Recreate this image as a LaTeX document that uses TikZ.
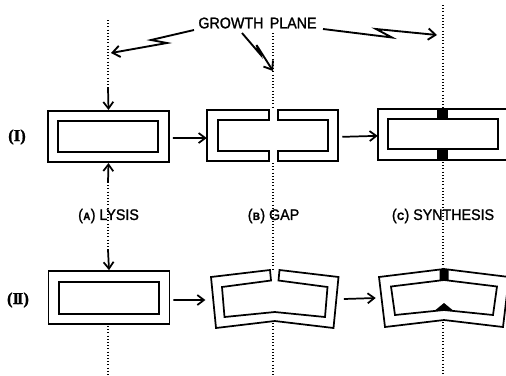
\documentclass[tikz,border=0pt]{standalone}
\usepackage{fontspec}
\setmainfont{Liberation Sans}
\newfontfamily\lettering[FakeBold=1.4]{Liberation Sans}
\newfontfamily\numfont[FakeBold=1.0]{Liberation Serif}
\usetikzlibrary{arrows.meta}
% small letter in parentheses, as in "(A)"
\newcommand\parlet[1]{(\kern0.3pt{\fontsize{8}{8}\selectfont\bfseries #1}\kern0.3pt)}
\tikzset{
  wall/.style={draw=black, line width=1.3pt, fill=white, line join=miter},
  cellout/.style={wall, minimum width=90.75pt, minimum height=38.5pt, inner sep=0pt},
  cellin/.style={wall, minimum width=75.5pt, minimum height=23.5pt, inner sep=0pt},
  hidden/.style={draw=none, inner sep=0pt},
  plane/.style={line width=1pt, dash pattern=on 0.8pt off 1.6pt},
  flow/.style={line width=1.3pt, -{Straight Barb[length=5pt,width=7.5pt,line width=1.3pt]}},
  bolt/.style={line width=1.4pt, line join=miter,
    -{Straight Barb[length=5.5pt,width=8.5pt,line width=1.4pt]}},
  lbl/.style={font=\lettering\fontsize{11.5}{12}\selectfont, xscale=0.93, inner sep=0pt},
  rowlbl/.style={font=\numfont\bfseries\fontsize{12.5}{13}\selectfont, inner sep=0pt},
  newwall/.style={fill=black, draw=none},
}
\begin{document}
\begin{tikzpicture}[x=0.75pt,y=-0.75pt]
\useasboundingbox (0,0) rectangle (506,375);
\begin{scope}
\clip (0,0) rectangle (506,375);

% ---------- growth planes (dotted) ----------
\coordinate (p1a) at (108,20);  \coordinate (p1b) at (108,88);
\coordinate (p1c) at (108,182); \coordinate (p1d) at (108,250);
\coordinate (p1e) at (108,326); \coordinate (p1f) at (108,375);
\draw[plane] (p1a) -- (p1b);
\draw[plane] (p1c) -- (p1d);
\draw[plane] (p1e) -- (p1f);

\coordinate (p2a) at (273,33);  \coordinate (p2b) at (273,109);
\coordinate (p2c) at (273,163); \coordinate (p2d) at (273,269);
\coordinate (p2e) at (273,323); \coordinate (p2f) at (273,375);
\draw[plane] (p2a) -- (p2b);
\draw[plane] (p2c) -- (p2d);
\draw[plane] (p2e) -- (p2f);

\coordinate (p3a) at (443,5);   \coordinate (p3b) at (443,108);
\coordinate (p3c) at (443,162); \coordinate (p3d) at (443,268);
\coordinate (p3e) at (443,322); \coordinate (p3f) at (443,375);
\draw[plane] (p3a) -- (p3b);
\draw[plane] (p3c) -- (p3d);
\draw[plane] (p3e) -- (p3f);

% ---------- title and lightning arrows ----------
\node[lbl] (title) at (257.5,23) {GROWTH\hspace{0.45em}PLANE};

\coordinate (b1s) at (194,30);  \coordinate (b1m) at (151,40);
\coordinate (b1n) at (167,43); \coordinate (b1e) at (111,53);
\draw[bolt] (b1s) -- (b1m) -- (b1n) -- (b1e);

\coordinate (b2s) at (242,33);  \coordinate (b2m) at (260,54);
\coordinate (b2n) at (256.5,45);  \coordinate (b2e) at (273,71);
\draw[bolt] (b2s) -- (b2m) -- (b2n) -- (b2e);

\coordinate (b3s) at (323,29);  \coordinate (b3m) at (392,37.5);
\coordinate (b3n) at (376,29);  \coordinate (b3e) at (437,35);
\draw[bolt] (b3s) -- (b3m) -- (b3n) -- (b3e);

% ---------- row labels ----------
\node[rowlbl] (r1) at (17,137) {(I)};
\node[rowlbl] (r2) at (18,300) {(I\kern-1.6ptI)};

% ---------- stage labels ----------
\node[lbl] (sA) at (108.5,216) {\parlet{A} LYSIS};
\node[lbl] (sB) at (273.5,216) {\parlet{B} GAP};
\node[lbl] (sC) at (443,216) {\parlet{C} SYNTHESIS};

% ---------- row I ----------
% (A) intact wall
\node[cellout] (IA) at (108.5,136.5) {};
\node[cellin]  (IAi) at (108,136.5) {};

% (B) wall opened at the growth plane
\node[hidden, minimum width=98.25pt, minimum height=38.25pt] (IB) at (272.5,135.5) {};
\filldraw[wall] (269,110) -- (207,110) -- (207,161) -- (269,161)
  -- (269,151) -- (218,151) -- (218,120) -- (269,120) -- cycle;
\filldraw[wall] (278,110) -- (338,110) -- (338,161) -- (278,161)
  -- (278,151) -- (328,151) -- (328,120) -- (278,120) -- cycle;

% (C) new wall laid into the gap
\node[hidden, minimum width=97.5pt, minimum height=38.25pt] (IC) at (443,134.5) {};
\filldraw[wall] (378,109) rectangle (508,160);
\filldraw[wall] (388,119) rectangle (498,149);
\fill[newwall] (437,109) rectangle (448,119);
\fill[newwall] (437,149) rectangle (448,160);

% ---------- row II ----------
\node[cellout, minimum height=39.75pt] (IIA) at (109,297.5) {};
\node[cellin, minimum height=24pt] (IIAi) at (109,298) {};

% (B) bent wall, open at the top
\node[hidden, minimum width=97pt, minimum height=44pt] (IIB) at (275,299) {};
\filldraw[wall] (270,270) -- (211,277) -- (216,328) -- (274.75,321)
  -- (333.5,328) -- (338.5,277) -- (279.5,270) -- (278.5,280.5)
  -- (327.5,287) -- (325,317) -- (274.75,312) -- (224.5,317)
  -- (222,287) -- (271,280.5) -- cycle;

% (C) bent wall with new material
\node[hidden, minimum width=96pt, minimum height=44pt] (IIC) at (444,298) {};
\filldraw[wall] (379,277) -- (444,269) -- (509,277) -- (503,327)
  -- (444,320) -- (385,327) -- cycle;
\filldraw[wall] (391,286.5) -- (444,280) -- (497,286.5) -- (493,315)
  -- (444,310) -- (395,315) -- cycle;
\fill[newwall] (439.5,269.6) -- (444,269) -- (448.5,269.6)
  -- (448.5,280.6) -- (444,280) -- (439.5,280.6) -- cycle;
\fill[newwall] (434,311.2) -- (444,303) -- (454,311.2) -- (444,310) -- cycle;

% ---------- connectors ----------
\draw[flow] (p1b) -- (IA.north);
\draw[flow] (p1c) -- (IA.south);
\draw[flow] (p1d) -- (IIA.north);
\draw[flow] ([xshift=2.25pt,yshift=-1.1pt]IA.east) -- ([yshift=-1.9pt]IB.west);
\draw[flow] ([xshift=3pt,yshift=-1pt]IB.east) -- ([yshift=-1pt]IC.west);
\draw[flow] ([xshift=2.25pt,yshift=-1.9pt]IIA.east) -- ([xshift=-3.5pt,yshift=-0.75pt]IIB.west);
\draw[flow] ([xshift=3pt]IIB.east) -- ([xshift=-3pt]IIC.west);
\end{scope}
\end{tikzpicture}
\end{document}
